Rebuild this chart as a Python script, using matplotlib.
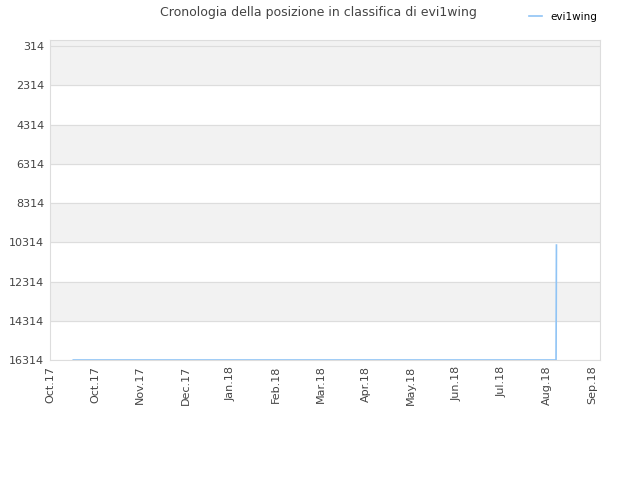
import numpy as np
import pandas as pd
import matplotlib
matplotlib.use("Agg")
import matplotlib.pyplot as plt

# rank history (flat at the bottom, one jump at the end)
dates = pd.to_datetime(["2017-10-15 12:00", "2018-08-10 18:00", "2018-08-11 00:00"])
ranks = [16314, 16314, 10455]
yticks = [314, 2314, 4314, 6314, 8314, 10314, 12314, 14314, 16314]
# ticks every 4 weeks, labelled with the month
xticks = pd.date_range("2017-10-01", periods=13, freq="28D")
xlabels = ["Oct.17", "Oct.17", "Nov.17", "Dec.17", "Jan.18", "Feb.18", "Mar.18",
           "Apr.18", "May.18", "Jun.18", "Jul.18", "Aug.18", "Sep.18"]

fig = plt.figure(figsize=(6.4, 4.8), dpi=100)
ax = fig.add_axes([0.078, 0.25, 0.8595, 0.6667])

ymin, ymax = 0, 16314
# alternating background bands
edges = [ymin] + yticks[1:]
for i in range(len(edges) - 1):
    if i % 2 == 0:
        ax.axhspan(edges[i], edges[i + 1], color="#f2f2f2", zorder=0)
for t in yticks:
    ax.axhline(t, color="#dddddd", lw=0.8, zorder=1)

ax.plot(dates, ranks, color="#90c4f5", lw=1.2, label="evi1wing", zorder=3)

ax.set_ylim(ymax, ymin)
ax.set_xlim(pd.Timestamp("2017-10-01"), pd.Timestamp("2018-09-07"))
ax.set_yticks(yticks)
ax.set_yticklabels([str(t) for t in yticks])
ax.set_xticks(xticks)
ax.set_xticklabels(xlabels, rotation=90)
ax.tick_params(labelsize=8, colors="#444444", length=0, pad=4)

for s in ax.spines.values():
    s.set_color("#dddddd")

fig.text(0.497, 0.988, "Cronologia della posizione in classifica di evi1wing",
         ha="center", va="top", fontsize=9, color="#444444")
fig.legend(handles=ax.get_lines()[-1:], loc="upper left", bbox_to_anchor=(0.812, 0.995),
           frameon=False, fontsize=7.5, handlelength=1.2, handletextpad=0.8)

fig.savefig("out.png", dpi=100)
